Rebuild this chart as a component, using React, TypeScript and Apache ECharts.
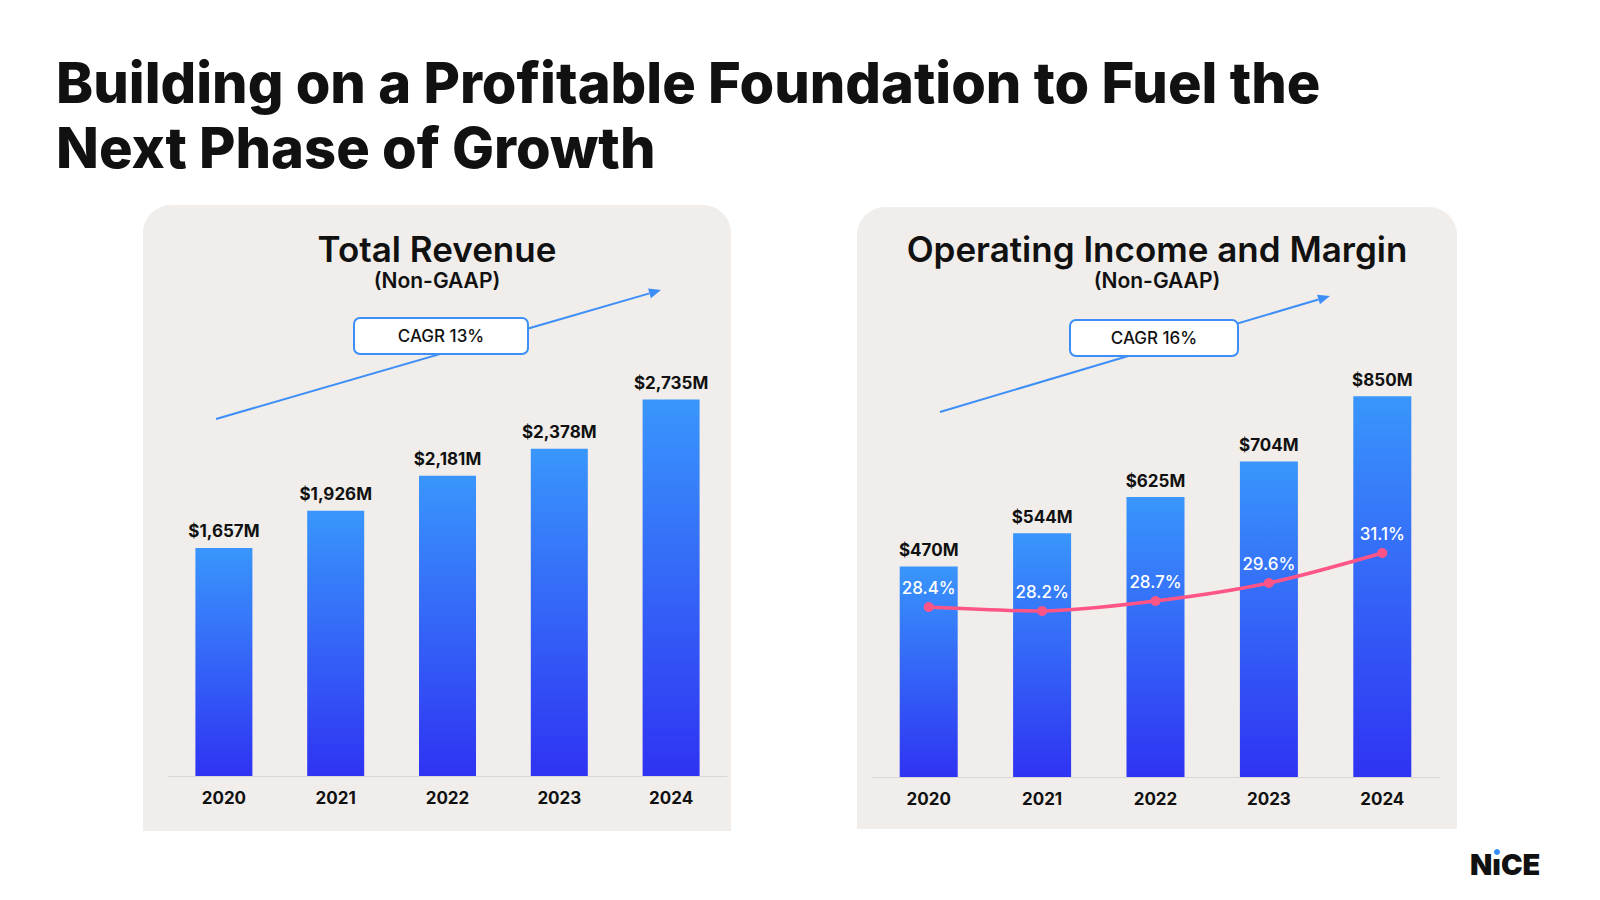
import React, { useEffect, useRef } from "react";
import * as echarts from "echarts";

const years = ["2020", "2021", "2022", "2023", "2024"];
const revenue = [1657, 1926, 2181, 2378, 2735];
const opIncome = [470, 544, 625, 704, 850];
const margin = [28.4, 28.2, 28.7, 29.6, 31.1];
const titleLines = ["Building on a Profitable Foundation to Fuel the", "Next Phase of Growth"];
const leftTitle = "Total Revenue";
const rightTitle = "Operating Income and Margin";
const subTitle = "(Non-GAAP)";
const cagrLeft = "CAGR 13%";
const cagrRight = "CAGR 16%";

const FONT = "Inter, 'Noto Sans', sans-serif";
const INK = "#111111";
const PANEL = "#f0edea";
const ARROW = "#3d8ff7";
const PINK = "#ff5586";

function arrow(x1: number, y1: number, x2: number, y2: number) {
  const dx = x2 - x1;
  const dy = y2 - y1;
  const len = Math.sqrt(dx * dx + dy * dy);
  const ux = dx / len;
  const uy = dy / len;
  const hl = 12;
  const hw = 5;
  const bx = x2 - ux * hl;
  const by = y2 - uy * hl;
  return [
    {
      type: "line",
      z: 50,
      shape: { x1, y1, x2: bx, y2: by },
      style: { stroke: ARROW, lineWidth: 2 },
    },
    {
      type: "polygon",
      z: 50,
      shape: {
        points: [
          [x2, y2],
          [bx - uy * hw, by + ux * hw],
          [bx + uy * hw, by - ux * hw],
        ],
      },
      style: { fill: ARROW },
    },
  ];
}

function cagrBox(x: number, y: number, w: number, h: number, text: string) {
  return [
    {
      type: "rect",
      z: 60,
      shape: { x, y, width: w, height: h, r: 6 },
      style: { fill: "#ffffff", stroke: ARROW, lineWidth: 2 },
    },
    {
      type: "text",
      z: 61,
      style: {
        x: x + w / 2,
        y: y + h / 2,
        text,
        fill: INK,
        font: `500 17px ${FONT}`,
        align: "center",
        verticalAlign: "middle",
      },
    },
  ];
}

function txt(x: number, y: number, text: string, font: string, align = "center") {
  return {
    type: "text",
    z: 40,
    style: { x, y, text, fill: INK, font, align, verticalAlign: "middle" },
  };
}

export default function App() {
  const ref = useRef<HTMLDivElement>(null);

  useEffect(() => {
    if (!ref.current) return;
    const chart = echarts.init(ref.current, undefined, { renderer: "svg" });

    const grad = () =>
      new echarts.graphic.LinearGradient(0, 0, 0, 1, [
        { offset: 0, color: "#3996fc" },
        { offset: 1, color: "#2f33f2" },
      ]);

    const axisCommon = {
      type: "category",
      data: years,
      axisTick: { show: false },
      axisLine: { lineStyle: { color: "#d8d6d4", width: 1 } },
      axisLabel: {
        color: INK,
        fontWeight: "bold",
        fontSize: 17,
        fontFamily: FONT,
        margin: 13,
      },
    };

    const barLabel = {
      show: true,
      position: "top",
      distance: 8,
      color: INK,
      fontWeight: "bold",
      fontSize: 17,
      fontFamily: FONT,
      formatter: (p: any) => `$${p.value.toLocaleString("en-US")}M`,
    };

    const option: any = {
      animation: false,
      backgroundColor: "#ffffff",
      grid: [
        { left: 168, top: 363, width: 559, height: 413 },
        { left: 872, top: 329, width: 567, height: 448 },
      ],
      xAxis: [
        { ...axisCommon, gridIndex: 0 },
        { ...axisCommon, gridIndex: 1 },
      ],
      yAxis: [
        { type: "value", gridIndex: 0, min: 0, max: 3000, show: false },
        { type: "value", gridIndex: 1, min: 0, max: 1000, show: false },
        { type: "value", gridIndex: 1, min: 19.9, max: 42.3, show: false },
      ],
      series: [
        {
          type: "bar",
          xAxisIndex: 0,
          yAxisIndex: 0,
          data: revenue,
          barWidth: 57,
          itemStyle: { color: grad() },
          label: barLabel,
        },
        {
          type: "bar",
          xAxisIndex: 1,
          yAxisIndex: 1,
          data: opIncome,
          barWidth: 58,
          itemStyle: { color: grad() },
          label: barLabel,
        },
        {
          type: "line",
          xAxisIndex: 1,
          yAxisIndex: 2,
          data: margin,
          z: 5,
          smooth: 0.3,
          symbol: "circle",
          symbolSize: 10,
          lineStyle: { color: PINK, width: 3.5 },
          itemStyle: { color: PINK },
          label: {
            show: true,
            position: "top",
            distance: 6,
            color: "#ffffff",
            fontSize: 17,
            fontWeight: 500,
            fontFamily: FONT,
            formatter: (p: any) => `${p.value.toFixed(1)}%`,
          },
        },
      ],
      graphic: [
        {
          type: "rect",
          z: -10,
          shape: { x: 143, y: 205, width: 588, height: 626, r: [28, 28, 0, 0] },
          style: { fill: PANEL },
        },
        {
          type: "rect",
          z: -10,
          shape: { x: 857, y: 207, width: 600, height: 622, r: [28, 28, 0, 0] },
          style: { fill: PANEL },
        },
        txt(56, 83, titleLines[0], `800 56px ${FONT}`, "left"),
        txt(56, 148, titleLines[1], `800 56px ${FONT}`, "left"),
        txt(437, 249, leftTitle, `600 35px ${FONT}`),
        txt(437, 280, subTitle, `600 21px ${FONT}`),
        txt(1157, 249, rightTitle, `600 35px ${FONT}`),
        txt(1157, 280, subTitle, `600 21px ${FONT}`),
        ...arrow(216, 419, 661, 290),
        ...cagrBox(354, 318, 174, 36, cagrLeft),
        ...arrow(940, 412, 1330, 296),
        ...cagrBox(1070, 320, 168, 36, cagrRight),
        txt(1470, 864, "N\u0131CE", `900 29px ${FONT}`, "left"),
        {
          type: "circle",
          z: 45,
          shape: { cx: 1497, cy: 852, r: 3 },
          style: { fill: "#2f8cf5" },
        },
      ],
    };

    chart.setOption(option);
    return () => chart.dispose();
  }, []);

  return (
    <div
      ref={ref}
      style={{ position: "fixed", left: 0, top: 0, width: 1600, height: 900, background: "#fff" }}
    />
  );
}
